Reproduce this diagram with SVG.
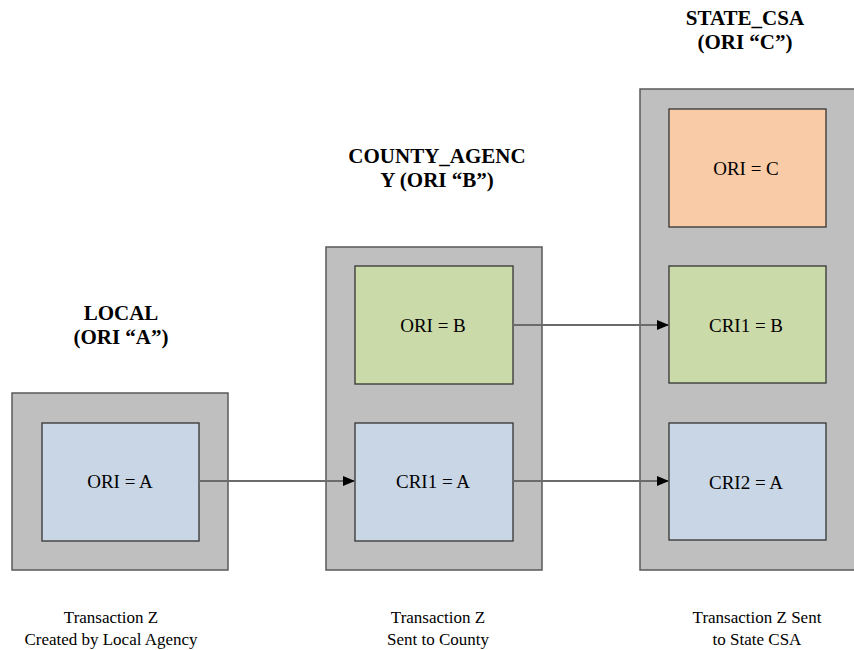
<svg xmlns="http://www.w3.org/2000/svg" width="854" height="650" viewBox="0 0 854 650">
<style>
.outer{fill:#bfbfbf;stroke:#595959;stroke-width:1.5}
.blue{fill:#c9d6e5;stroke:#333;stroke-width:1.3}
.green{fill:#cbdaa9;stroke:#333;stroke-width:1.3}
.orange{fill:#f9cba6;stroke:#333;stroke-width:1.3}
text{font-family:'Liberation Serif','Times New Roman','DejaVu Serif',serif;fill:#000;text-anchor:middle}
.title{font-weight:bold;font-size:21px}
.lbl{font-size:19px}
.cap{font-size:17px}
.conn{stroke:#6b6b6b;stroke-width:2;fill:none;marker-end:url(#arr)}
</style>
<defs>
<marker id="arr" viewBox="0 0 12 10" refX="12" refY="5" markerWidth="12" markerHeight="10" markerUnits="userSpaceOnUse" orient="auto">
<path d="M0,0 L12,5 L0,10 z" fill="#000"/>
</marker>
</defs>
<rect width="854" height="650" fill="#fff"/>
<g id="local">
<rect class="outer" x="12" y="393" width="216" height="177"/>
<text class="title" x="121" y="320" font-family="Liberation Serif, serif">LOCAL</text>
<text class="title" x="121" y="344" font-family="Liberation Serif, serif">(ORI “A”)</text>
</g>
<g id="county">
<rect class="outer" x="326" y="247" width="216" height="323"/>
<text class="title" x="437" y="163" font-family="Liberation Serif, serif">COUNTY_AGENC</text>
<text class="title" x="437" y="187" font-family="Liberation Serif, serif">Y (ORI “B”)</text>
</g>
<g id="state">
<rect class="outer" x="640" y="89" width="220" height="481"/>
<text class="title" x="745" y="25" font-family="Liberation Serif, serif">STATE_CSA</text>
<text class="title" x="745" y="49" font-family="Liberation Serif, serif">(ORI “C”)</text>
</g>
<g id="local-ori-a">
<rect class="blue" x="42" y="423" width="157" height="118"/>
<text class="lbl" x="120" y="488" font-family="Liberation Serif, serif">ORI = A</text>
</g>
<g id="county-ori-b">
<rect class="green" x="355" y="266" width="158" height="118"/>
<text class="lbl" x="433" y="332" font-family="Liberation Serif, serif">ORI = B</text>
</g>
<g id="county-cri1-a">
<rect class="blue" x="355" y="423" width="158" height="118"/>
<text class="lbl" x="433" y="488" font-family="Liberation Serif, serif">CRI1 = A</text>
</g>
<g id="state-ori-c">
<rect class="orange" x="669" y="109" width="157" height="118"/>
<text class="lbl" x="746" y="175" font-family="Liberation Serif, serif">ORI = C</text>
</g>
<g id="state-cri1-b">
<rect class="green" x="669" y="266" width="157" height="117"/>
<text class="lbl" x="746" y="332" font-family="Liberation Serif, serif">CRI1 = B</text>
</g>
<g id="state-cri2-a">
<rect class="blue" x="669" y="423" width="157" height="117"/>
<text class="lbl" x="746" y="489" font-family="Liberation Serif, serif">CRI2 = A</text>
</g>
<g id="connectors">
<line class="conn" x1="199" y1="481" x2="355" y2="481"/>
<line class="conn" x1="513" y1="481" x2="669" y2="481"/>
<line class="conn" x1="513" y1="325" x2="669" y2="325"/>
</g>
<g id="captions">
<text class="cap" x="111" y="623" font-family="Liberation Serif, serif">Transaction Z</text>
<text class="cap" x="111" y="645" font-family="Liberation Serif, serif">Created by Local Agency</text>
<text class="cap" x="438" y="623" font-family="Liberation Serif, serif">Transaction Z</text>
<text class="cap" x="438" y="645" font-family="Liberation Serif, serif">Sent to County</text>
<text class="cap" x="757" y="623" font-family="Liberation Serif, serif">Transaction Z Sent</text>
<text class="cap" x="757" y="645" font-family="Liberation Serif, serif">to State CSA</text>
</g>
</svg>
